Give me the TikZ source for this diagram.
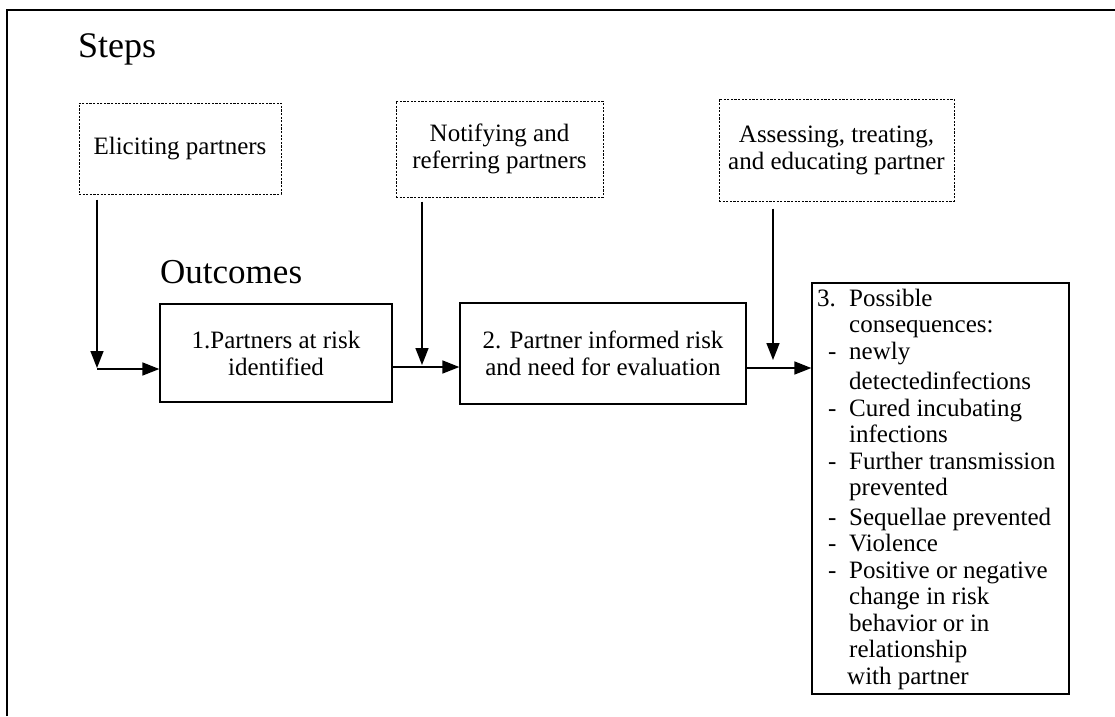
\documentclass[tikz,border=0pt]{standalone}
\usepackage{fontspec}
\setmainfont{Liberation Serif}
\usetikzlibrary{arrows.meta}
\begin{document}
\begin{tikzpicture}[x=1pt,y=-1pt,
  txt/.style={font=\fontsize{25}{27}\selectfont, align=center, inner sep=0pt},
  stepbox/.style={txt, draw, line width=1pt, dash pattern=on 2.2pt off 1.4pt},
  outbox/.style={txt, draw, line width=1.3pt},
  arr/.style={line width=1.6pt, -{Triangle[length=17pt,width=13pt]}},
  frame/.style={line width=1.5pt}]
\useasboundingbox (0,0) rectangle (1115,716);
% frame (top and left edges)
\draw[frame] (7,716) -- (7,10) -- (1115,10);
% headings
\node[anchor=base west, inner sep=0pt, font=\fontsize{36}{40}\selectfont] (steps) at (78,57) {Steps};
\node[anchor=base west, inner sep=0pt, font=\fontsize{35}{40}\selectfont] (outc) at (160,283) {Outcomes};
% step boxes
\node[stepbox, minimum width=202pt, minimum height=91pt] (A) at (180,148.5) {Eliciting partners};
\node[stepbox, minimum width=207pt, minimum height=96pt] (B) at (499.5,149) {Notifying and\\referring partners};
\node[stepbox, minimum width=235pt, minimum height=102pt] (C) at (836.5,150) {Assessing, treating,\\and educating partner};
% outcome boxes
\node[outbox, minimum width=232pt, minimum height=98pt] (O1) at (276,353) {1.Partners at risk\\identified};
\node[outbox, minimum width=286pt, minimum height=101pt] (O2) at (603,353.5) {2. Partner informed risk\\and need for evaluation};
\node[outbox, minimum width=257pt, minimum height=411pt] (O3) at (940.5,488.5) {};
\node[anchor=base west, inner sep=0pt, font=\fontsize{25}{26.5}\selectfont] (O3t) at (817,306) {%
\begin{tabular}[t]{@{}l@{}}
\makebox[32pt][l]{3.}Possible\\
\makebox[32pt][l]{}consequences:\\
\makebox[32pt][l]{\hspace{11pt}-}newly\\[4pt]
\makebox[32pt][l]{}detectedinfections\\
\makebox[32pt][l]{\hspace{11pt}-}Cured incubating\\
\makebox[32pt][l]{}infections\\
\makebox[32pt][l]{\hspace{11pt}-}Further transmission\\
\makebox[32pt][l]{}prevented\\[3pt]
\makebox[32pt][l]{\hspace{11pt}-}Sequellae prevented\\
\makebox[32pt][l]{\hspace{11pt}-}Violence\\
\makebox[32pt][l]{\hspace{11pt}-}Positive or negative\\
\makebox[32pt][l]{}change in risk\\
\makebox[32pt][l]{}behavior or in\\
\makebox[32pt][l]{}relationship\\
\makebox[30pt][l]{}with partner
\end{tabular}};
% junction coordinates
\coordinate (c1) at (97,369);
\coordinate (c2) at (422,367);
\coordinate (c3) at (773,368);
% vertical arrows from steps
\draw[arr, shorten <=5pt, shorten >=1pt] (A.south -| c1) -- (c1);
\draw[arr, shorten <=4pt, shorten >=2pt] (B.south -| c2) -- (c2);
\draw[arr, shorten <=7pt, shorten >=8pt] (C.south -| c3) -- (c3);
% horizontal arrows between outcomes
\draw[arr] (c1) -- (c1 -| O1.west);
\draw[arr] (O1.east |- c2) -- (c2 -| O2.west);
\draw[arr] (O2.east |- c3) -- (c3 -| O3.west);
\end{tikzpicture}
\end{document}
